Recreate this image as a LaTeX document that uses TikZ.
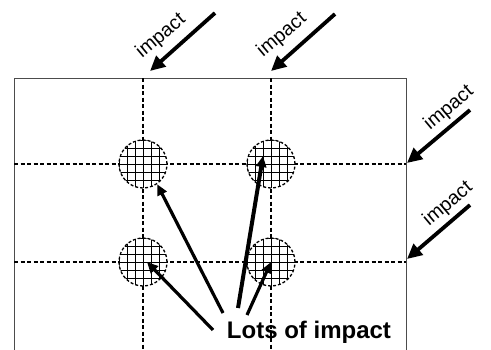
\documentclass[tikz,border=0pt]{standalone}
\usepackage{fontspec}
\setmainfont{Liberation Sans}
\usetikzlibrary{arrows.meta}
\begin{document}
\begin{tikzpicture}[x=1pt,y=-1pt,
  guide/.style={draw=black, line width=1.2pt, dash pattern=on 4pt off 2.5pt},
  frame/.style={draw=black!70, line width=1pt},
  impactarrow/.style={line width=3.8pt, -{Triangle[length=15pt,width=14pt]}},
  ptr/.style={line width=3.2pt, -{Triangle[length=11pt,width=10pt]}},
  lbl/.style={font=\fontsize{19.5}{21}\selectfont, rotate=40, inner sep=0pt},
  big/.style={font=\fontsize{24}{26}\selectfont\bfseries, inner sep=0pt, anchor=base},
  spot/.style={circle, minimum size=48pt, inner sep=0pt, fill=white, draw=black,
    line width=1.3pt, dash pattern=on 3pt off 2pt,
    path picture={\begin{scope}[shift={(path picture bounding box.center)}]
      \draw[solid, line width=1pt, step=8pt] (-32,-32) grid (32,32);
    \end{scope}}}
]
\useasboundingbox (0,0) rectangle (491,349);
\begin{scope}
\clip (0,0) rectangle (491,349);
% frame (bottom is outside the picture)
\coordinate (fTL) at (14,78);
\coordinate (fTR) at (406,78);
\coordinate (fBL) at (14,360);
\coordinate (fBR) at (406,360);
\draw[frame] (fBL) -- (fTL) -- (fTR) -- (fBR);
% guide lines
\coordinate (v1t) at (143,78);  \coordinate (v1b) at (143,360);
\coordinate (v2t) at (271,78);  \coordinate (v2b) at (271,360);
\coordinate (h1l) at (14,164);  \coordinate (h1r) at (406,164);
\coordinate (h2l) at (14,262);  \coordinate (h2r) at (406,262);
\draw[guide] (v1t) -- (v1b);
\draw[guide] (v2t) -- (v2b);
\draw[guide] (h1l) -- (h1r);
\draw[guide] (h2l) -- (h2r);
\end{scope}
% spots
\node[spot] (c1) at (143,164) {};
\node[spot] (c2) at (271,164) {};
\node[spot] (c3) at (143,262) {};
\node[spot] (c4) at (271,262) {};
% impact arrows
\coordinate (a1s) at (215,13);  \coordinate (a1t) at (150,71);
\coordinate (a2s) at (335,14);  \coordinate (a2t) at (271,71);
\coordinate (a3s) at (470,110); \coordinate (a3t) at (407,163);
\coordinate (a4s) at (470,205); \coordinate (a4t) at (407,259);
\draw[impactarrow] (a1s) -- (a1t);
\draw[impactarrow] (a2s) -- (a2t);
\draw[impactarrow] (a3s) -- (a3t);
\draw[impactarrow] (a4s) -- (a4t);
\node[lbl] (l1) at (161,36) {impact};
\node[lbl] (l2) at (282,35) {impact};
\node[lbl] (l3) at (449,108) {impact};
\node[lbl] (l4) at (448,204) {impact};
% lots of impact
\node[big] (lots) at (309,338) {Lots of impact};
\coordinate (p1) at (223,313);
\coordinate (p2) at (213,330);
\coordinate (p3) at (238,308);
\coordinate (p4) at (247,315);
\draw[ptr] (p1) -- (c1.-55);
\draw[ptr] (p2) -- ([xshift=4pt]c3.center);
\draw[ptr, line width=4pt] (p3) -- ([shift={(-8pt,8pt)}]c2.center);
\draw[ptr] (p4) -- (c4.center);
\end{tikzpicture}
\end{document}
